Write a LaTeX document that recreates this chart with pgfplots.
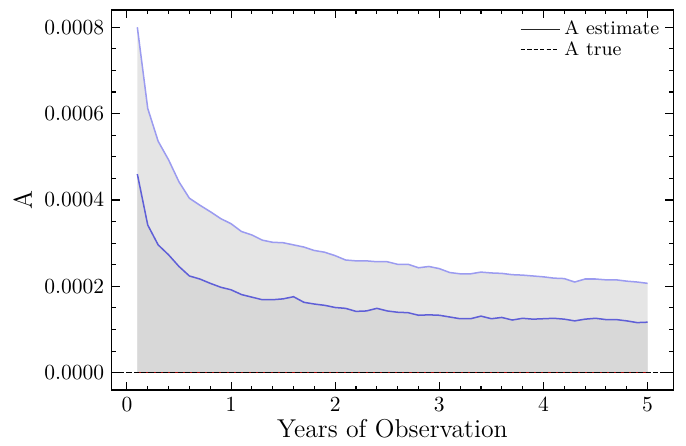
\documentclass[border=0pt]{standalone}
\usepackage{pgfplots}
\usepackage{pgfplotstable}
\pgfplotsset{compat=1.18}

\definecolor{estline}{RGB}{95,95,215}
\definecolor{upline}{RGB}{155,155,240}
\definecolor{upfill}{RGB}{229,229,229}
\definecolor{estfill}{RGB}{216,216,216}

% years, estimate of A, upper bound of A
\pgfplotstableread{
x    est       up
0.1  0.000460  0.000800
0.2  0.000342  0.000612
0.3  0.000296  0.000536
0.4  0.000273  0.000493
0.5  0.000246  0.000442
0.6  0.000224  0.000404
0.7  0.000217  0.000388
0.8  0.000207  0.000373
0.9  0.000198  0.000357
1.0  0.000192  0.000345
1.1  0.000181  0.000327
1.2  0.000175  0.000319
1.3  0.000169  0.000307
1.4  0.000169  0.000302
1.5  0.000171  0.000301
1.6  0.000176  0.000296
1.7  0.000163  0.000291
1.8  0.000159  0.000283
1.9  0.000156  0.000279
2.0  0.000151  0.000271
2.1  0.000149  0.000261
2.2  0.000142  0.000259
2.3  0.000143  0.000259
2.4  0.000149  0.000257
2.5  0.000143  0.000257
2.6  0.000140  0.000251
2.7  0.000139  0.000251
2.8  0.000133  0.000243
2.9  0.000134  0.000246
3.0  0.000133  0.000241
3.1  0.000129  0.000232
3.2  0.000125  0.000229
3.3  0.000125  0.000229
3.4  0.000131  0.000233
3.5  0.000125  0.000231
3.6  0.000128  0.000230
3.7  0.000122  0.000227
3.8  0.000126  0.000226
3.9  0.000124  0.000224
4.0  0.000125  0.000222
4.1  0.000126  0.000219
4.2  0.000124  0.000218
4.3  0.000120  0.000210
4.4  0.000124  0.000217
4.5  0.000126  0.000217
4.6  0.000123  0.000215
4.7  0.000123  0.000215
4.8  0.000120  0.000212
4.9  0.000116  0.000210
5.0  0.000117  0.000207
}\datatable

\begin{document}
\begin{tikzpicture}
\begin{axis}[
  scale only axis,
  width=261pt, height=176.7pt,
  xmin=-0.145, xmax=5.245,
  ymin=-0.00004, ymax=0.00084,
  xtick={0,1,2,3,4,5},
  ytick={0,0.0002,0.0004,0.0006,0.0008},
  minor x tick num=4,
  minor y tick num=3,
  tick align=inside,
  major tick length=3.6pt,
  minor tick length=2pt,
  tick style={black, line width=0.5pt},
  axis line style={line width=0.5pt},
  scaled y ticks=false,
  yticklabel style={/pgf/number format/.cd, fixed, fixed zerofill, precision=4},
  tick label style={font=\normalsize},
  xlabel={Years of Observation},
  ylabel={A},
  label style={font=\large},
  xlabel style={yshift=3pt},
  ylabel style={yshift=-1pt},
  legend style={draw=none, fill=none, font=\small, anchor=north east,
    at={(rel axis cs:0.995,0.995)}, row sep=-2.5pt},
  legend cell align=left,
  legend image code/.code={\draw[#1] (0pt,0pt) -- (14.5pt,0pt); \path (0pt,0pt) -- (18pt,0pt);},
]
\coordinate (sw) at (rel axis cs:0,0);
\coordinate (ne) at (rel axis cs:1,1);

% shaded bands down to zero
\addplot[draw=none, fill=upfill, forget plot] table[x=x, y=up] {\datatable} \closedcycle;
\addplot[draw=none, fill=estfill, forget plot] table[x=x, y=est] {\datatable} \closedcycle;

% upper bound and estimate
\addplot[upline, line width=0.7pt, forget plot] table[x=x, y=up] {\datatable};
\addplot[estline, line width=0.7pt, forget plot] table[x=x, y=est] {\datatable};

% true value of A
\addplot[red!60!black, line width=0.45pt, forget plot] coordinates {(0.1,0) (5.0,0)};
\addplot[black, line width=0.5pt, dash pattern=on 2.4pt off 1pt, forget plot]
  coordinates {(-0.145,0) (5.245,0)};

\addlegendimage{black!85, line width=0.6pt}
\addlegendentry{A estimate}
\addlegendimage{black, line width=0.6pt, dash pattern=on 2pt off 1pt}
\addlegendentry{A true}
\end{axis}
\pgfresetboundingbox
\path ([shift={(-52pt,-25.6pt)}]sw) rectangle ([shift={(6pt,4.65pt)}]ne);
\end{tikzpicture}
\end{document}
